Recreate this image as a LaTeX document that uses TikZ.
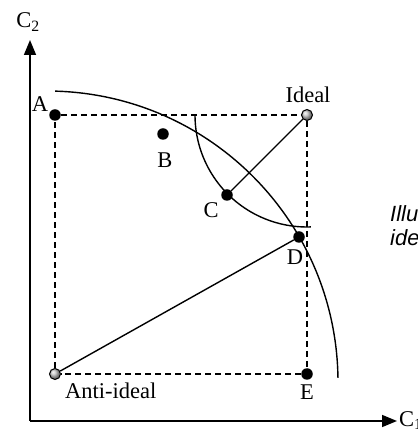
\documentclass[tikz,border=0pt]{standalone}
\usepackage{fontspec}
\setmainfont{Liberation Serif}
\newfontfamily\notefont{Liberation Sans}
\usetikzlibrary{arrows.meta}

\begin{document}
\begin{tikzpicture}[x=1pt, y=1pt,
  axis/.style={line width=1.5pt, -{Triangle[length=15pt, width=12pt]}},
  guide/.style={line width=1.2pt, dash pattern=on 6pt off 4pt},
  curve/.style={line width=1.4pt},
  dot/.style={circle, fill=black, inner sep=0pt, minimum size=11.5pt},
  refdot/.style={circle, draw=black, line width=1pt, ball color=gray!45, inner sep=0pt, minimum size=11pt},
  lbl/.style={inner sep=0pt, font=\fontsize{22.5}{26}\selectfont, anchor=base}]
  \useasboundingbox (0,0) rectangle (417,430);
  % axes
  \coordinate (O) at (30,9);
  \coordinate (c2tip) at (30,390);
  \coordinate (c1tip) at (397,9);
  \draw[axis] (O) -- (c2tip);
  \draw[axis] (O) -- (c1tip);
  \node[lbl] (c2lab) at (28,402) {C\textsubscript{2}};
  \node[lbl, anchor=base west] (c1lab) at (399,4) {C\textsubscript{1}};
  % alternatives and reference points
  \node[dot] (A) at (55,315) {};
  \node[refdot] (ideal) at (307,315) {};
  \node[dot] (B) at (163,296) {};
  \node[dot] (C) at (227,235) {};
  \node[dot] (D) at (299,193) {};
  \node[dot] (E) at (307,56) {};
  \node[refdot] (anti) at (55,56) {};
  \draw[guide] (A) -- (ideal) -- (E) -- (anti) -- (A);
  % frontier, distance arc and distances
  \draw[curve] (47,48) ++(88.4:291pt) arc[start angle=88.4, end angle=0.8, radius=291pt];
  \draw[curve] (ideal.center) ++(180:112pt) arc[start angle=180, end angle=272, radius=112pt];
  \draw[curve] (ideal) -- (C);
  \draw[curve] (anti) -- (D);
  % labels
  \node[lbl] (lA) at (40,318) {A};
  \node[lbl] (lB) at (165,262) {B};
  \node[lbl] (lC) at (211,212) {C};
  \node[lbl] (lD) at (295,165) {D};
  \node[lbl] (lE) at (307,30) {E};
  \node[lbl] (lideal) at (308,327) {Ideal};
  \node[lbl, anchor=base west] (lanti) at (65,31) {Anti-ideal};
  \node[anchor=base west, inner sep=0pt, font=\notefont\itshape\fontsize{22}{25}\selectfont] (note1) at (390,208) {Illu};
  \node[anchor=base west, inner sep=0pt, font=\notefont\itshape\fontsize{22}{25}\selectfont] (note2) at (390,184) {ide};
\end{tikzpicture}
\end{document}
